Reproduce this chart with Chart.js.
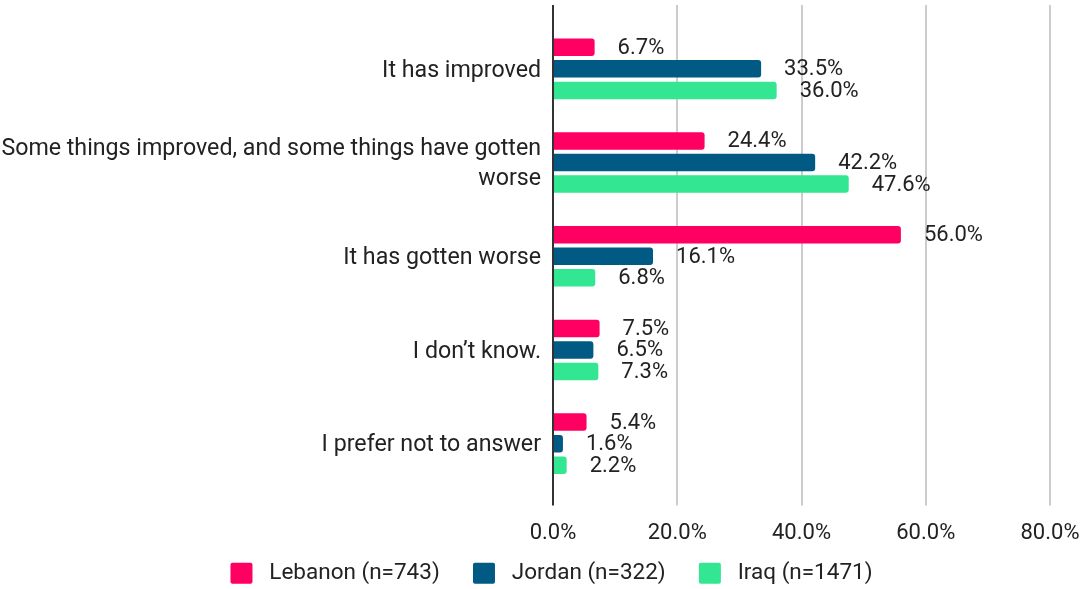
<!DOCTYPE html>
<html>
<head>
<meta charset="utf-8">
<script src="https://cdn.jsdelivr.net/npm/chart.js@4/dist/chart.umd.min.js"></script>
<style>
  body { margin: 0; background: #fff; }
  #caja { width: 1083px; height: 589px; }
</style>
</head>
<body>
<div id="caja"><canvas id="miGrafica"></canvas></div>
<script>
// Respuestas (eje vertical)
const categorias = [
    'It has improved',
    ['Some things improved, and some things have gotten', 'worse'],
    'It has gotten worse',
    'I don\u2019t know.',
    'I prefer not to answer'
];

// Porcentajes por país
const lebanon = [6.7, 24.4, 56.0, 7.5, 5.4];
const jordan = [33.5, 42.2, 16.1, 6.5, 1.6];
const iraq = [36.0, 47.6, 6.8, 7.3, 2.2];

const series = ['Lebanon (n=743)', 'Jordan (n=322)', 'Iraq (n=1471)'];

// Eje horizontal
const ticksX = [0, 20, 40, 60, 80];

const fuente = 'Roboto';
const colorTexto = '#222222';

// Escribe el valor al final de cada barra
const etiquetasValor = {
    id: 'etiquetasValor',
    afterDatasetsDraw(chart) {
        const ctx = chart.ctx;
        ctx.save();
        ctx.font = '22px ' + fuente;
        ctx.fillStyle = colorTexto;
        ctx.textAlign = 'left';
        ctx.textBaseline = 'middle';
        chart.data.datasets.forEach((ds, i) => {
            chart.getDatasetMeta(i).data.forEach((bar, j) => {
                ctx.fillText(ds.data[j].toFixed(1) + '%', bar.x + 23, bar.y + 1);
            });
        });
        ctx.restore();
    }
};

// Corre la leyenda un poco a la derecha (queda centrada bajo el gráfico)
const moverLeyenda = {
    id: 'moverLeyenda',
    afterLayout(chart) {
        chart.legend.left += 10;
        chart.legend.right += 10;
    }
};

// lineas de la grilla: la del 0 es oscura (hace de eje)
const colorGrilla = (c) => (c.tick && c.tick.value === 0) ? '#333333' : '#cccccc';

const dataset = {
    labels: categorias,
    datasets: [
        { label: series[0], data: lebanon, backgroundColor: '#FF0062' },
        { label: series[1], data: jordan, backgroundColor: '#005A83' },
        { label: series[2], data: iraq, backgroundColor: '#33E692' }
    ].map(d => Object.assign(d, {
        borderRadius: 3,
        categoryPercentage: 0.69,
        barPercentage: 0.81
    }))
};

const options = {
    indexAxis: 'y',
    responsive: true,
    maintainAspectRatio: false,
    animation: false,
    layout: { padding: { left: 0, right: 0, top: 0, bottom: -5.5 } },
    scales: {
        x: {
            min: ticksX[0],
            max: ticksX[ticksX.length - 1],
            afterBuildTicks: (axis) => { axis.ticks = ticksX.map(v => ({ value: v })); },
            afterFit: (axis) => {
                axis.height = 55;
                axis.paddingLeft = 0;
                axis.paddingRight = 33;
            },
            border: { display: false },
            grid: { color: colorGrilla, lineWidth: 2, tickLength: 15 },
            ticks: {
                padding: 14.5,
                color: colorTexto,
                font: { family: fuente, size: 22 },
                callback: (v) => Number(v).toFixed(1) + '%'
            }
        },
        // eje superior solo para prolongar la grilla hacia arriba
        x2: {
            position: 'top',
            min: ticksX[0],
            max: ticksX[ticksX.length - 1],
            afterBuildTicks: (axis) => { axis.ticks = ticksX.map(v => ({ value: v })); },
            afterFit: (axis) => {
                axis.height = 22;
                axis.paddingLeft = 0;
                axis.paddingRight = 0;
            },
            border: { display: false },
            grid: { color: colorGrilla, lineWidth: 2, tickLength: 17, drawOnChartArea: false },
            ticks: { display: false }
        },
        y: {
            afterFit: (axis) => {
                axis.width = 553;
                axis.paddingTop = 0;
                axis.paddingBottom = 0;
            },
            border: { display: false },
            grid: { display: false, drawTicks: false },
            ticks: {
                padding: 12,
                labelOffset: 2,
                color: colorTexto,
                font: { family: fuente, size: 23.2, lineHeight: 1.3 }
            }
        }
    },
    plugins: {
        legend: {
            position: 'bottom',
            labels: {
                color: colorTexto,
                font: { family: fuente, size: 22.5 },
                boxWidth: 22,
                boxHeight: 21,
                useBorderRadius: true,
                borderRadius: 2,
                padding: 16.5,
                // un espacio antes del texto y tres al final para separar los items
                generateLabels: (chart) => Chart.defaults.plugins.legend.labels.generateLabels(chart)
                    .map((l, i, arr) => Object.assign(l, {
                        text: ' ' + l.text + (i < arr.length - 1 ? '   ' : ''),
                        lineWidth: 0
                    }))
            }
        },
        tooltip: { enabled: false }
    }
};

const ctx = document.getElementById('miGrafica').getContext('2d');
window.myChart = new Chart(ctx, {
    type: 'bar',
    data: dataset,
    options: options,
    plugins: [etiquetasValor, moverLeyenda]
});
</script>
</body>
</html>
